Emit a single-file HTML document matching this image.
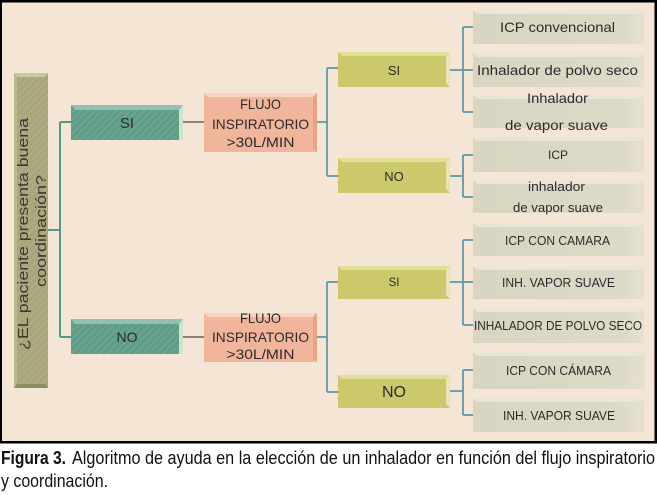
<!DOCTYPE html>
<html><head><meta charset="utf-8">
<style>
html,body{margin:0;padding:0;background:#fff;}
svg{display:block;}
text{font-family:"Liberation Sans",sans-serif;fill:#2b2b2b;}
.cap{font-family:"Liberation Sans Narrow","Liberation Sans",sans-serif;fill:#111;}
</style></head><body>
<svg width="657" height="495" viewBox="0 0 657 495" xmlns="http://www.w3.org/2000/svg">
<defs>
<pattern id="hatch" width="5" height="5" patternUnits="userSpaceOnUse" patternTransform="rotate(45)">
<rect width="5" height="5" fill="none"/>
<line x1="0" y1="0" x2="0" y2="5" stroke="#ffffff" stroke-opacity="0.13" stroke-width="2"/>
</pattern>
<linearGradient id="leafg" x1="0" y1="0" x2="1" y2="0">
<stop offset="0" stop-color="#d8d5c1"/><stop offset="0.85" stop-color="#dcd9c7"/><stop offset="1" stop-color="#e6e0cf"/>
</linearGradient>
</defs>
<rect x="0" y="0" width="657" height="495" fill="#fff"/>
<rect x="0" y="0" width="657" height="443.5" fill="#000"/>
<rect x="2" y="2.5" width="652.5" height="438.5" fill="#f4e5d4"/>

<!-- connectors -->
<g fill="none" stroke-width="2">
<path d="M48 230 H60 M60 122 V337 M60 122 H71 M60 337 H71" stroke="#4f9a88"/>
<path d="M183 122 H204 M183 337 H204" stroke="#957f74"/>
<path d="M317 122 H327 M327 68 V176 M327 68 H338 M327 176 H338" stroke="#6e9fae"/>
<path d="M317 337 H327 M327 282 V392 M327 282 H338 M327 392 H338" stroke="#6e9fae"/>
<path d="M450 70 H463 M463 27 V112 M463 27 H474 M463 70 H474 M463 112 H474" stroke="#6e9fae"/>
<path d="M450 176 H463 M463 155 V197 M463 155 H474 M463 197 H474" stroke="#6e9fae"/>
<path d="M450 282 H463 M463 240 V325 M463 240 H474 M463 282 H474 M463 325 H474" stroke="#6e9fae"/>
<path d="M450 391 H463 M463 370 V415 M463 370 H474 M463 415 H474" stroke="#6e9fae"/>
</g>

<!-- question box -->
<rect x="14" y="73" width="34" height="315" fill="#a8a47b"/>
<rect x="14" y="73" width="34" height="315" fill="url(#hatch)"/>
<polygon points="14,73 48,73 45,77 17,77" fill="#c9c6a0"/>
<polygon points="14,73 17,77 17,384 14,388" fill="#bdb98f"/>
<polygon points="14,388 17,384 45,384 48,388" fill="#8f8b63"/>
<text transform="translate(28,234) rotate(-90)" text-anchor="middle" font-size="15" textLength="232" lengthAdjust="spacingAndGlyphs" style="fill:#3a3a30">¿EL paciente presenta buena</text>
<text transform="translate(46,231) rotate(-90)" text-anchor="middle" font-size="15" textLength="112" lengthAdjust="spacingAndGlyphs" style="fill:#3a3a30">coordinación?</text>

<!-- teal boxes -->
<g>
<rect x="71" y="105" width="112" height="35" fill="#5f9d87"/>
<rect x="71" y="105" width="112" height="35" fill="url(#hatch)"/>
<polygon points="71,105 183,105 179,110 75,110" fill="#94c1ae"/>
<polygon points="179,110 183,105 183,140 179,140" fill="#cfe2cc"/>
<rect x="71" y="319" width="112" height="35" fill="#5f9d87"/>
<rect x="71" y="319" width="112" height="35" fill="url(#hatch)"/>
<polygon points="71,319 183,319 179,324 75,324" fill="#94c1ae"/>
<polygon points="179,324 183,319 183,354 179,354" fill="#cfe2cc"/>
</g>
<text x="127" y="128" text-anchor="middle" font-size="15">SI</text>
<text x="127" y="342" text-anchor="middle" font-size="14">NO</text>

<!-- salmon boxes -->
<rect x="204" y="93" width="113" height="59" fill="#f0b59b"/>
<polygon points="204,93 317,93 313,97 208,97" fill="#f8d3c0"/>
<polygon points="313,97 317,93 317,152 313,148" fill="#e8a286"/>
<rect x="204" y="313" width="113" height="49" fill="#f0b59b"/>
<polygon points="204,313 317,313 313,317 208,317" fill="#f8d3c0"/>
<polygon points="313,317 317,313 317,362 313,358" fill="#e8a286"/>
<g font-size="14" text-anchor="middle">
<text x="260.5" y="109" textLength="41" lengthAdjust="spacingAndGlyphs">FLUJO</text>
<text x="260.5" y="129" textLength="97" lengthAdjust="spacingAndGlyphs">INSPIRATORIO</text>
<text x="260.5" y="147" textLength="68" lengthAdjust="spacingAndGlyphs">&gt;30L/MIN</text>
<text x="260.5" y="323" textLength="41" lengthAdjust="spacingAndGlyphs">FLUJO</text>
<text x="260.5" y="342" textLength="97" lengthAdjust="spacingAndGlyphs">INSPIRATORIO</text>
<text x="260.5" y="359" textLength="68" lengthAdjust="spacingAndGlyphs">&gt;30L/MIN</text>
</g>

<!-- yellow boxes -->
<g>
<rect x="338" y="52" width="112" height="35" fill="#cbc96b"/>
<polygon points="338,52 450,52 446,56 342,56" fill="#e0df98"/>
<polygon points="446,56 450,52 450,87 446,83" fill="#e8e4b8"/>
<rect x="338" y="158" width="112" height="35" fill="#cbc96b"/>
<polygon points="338,158 450,158 446,162 342,162" fill="#e0df98"/>
<polygon points="446,162 450,158 450,193 446,189" fill="#e8e4b8"/>
<rect x="338" y="266" width="112" height="33" fill="#cbc96b"/>
<polygon points="338,266 450,266 446,270 342,270" fill="#e0df98"/>
<polygon points="446,270 450,266 450,299 446,295" fill="#e8e4b8"/>
<rect x="338" y="375" width="112" height="33" fill="#cbc96b"/>
<polygon points="338,375 450,375 446,379 342,379" fill="#e0df98"/>
<polygon points="446,379 450,375 450,408 446,404" fill="#e8e4b8"/>
</g>
<text x="394" y="75" text-anchor="middle" font-size="13">SI</text>
<text x="394" y="181" text-anchor="middle" font-size="13">NO</text>
<text x="394" y="286" text-anchor="middle" font-size="11.5">SI</text>
<text x="394" y="397" text-anchor="middle" font-size="16">NO</text>

<!-- leaf boxes -->
<g>
<rect x="473" y="10" width="171" height="34" fill="url(#leafg)"/><polygon points="473,10 644,10 640,14 477,14" fill="#e9e6d8"/>
<rect x="473" y="53" width="171" height="34" fill="url(#leafg)"/><polygon points="473,53 644,53 640,57 477,57" fill="#e9e6d8"/>
<rect x="473" y="95" width="171" height="33" fill="url(#leafg)"/><polygon points="473,95 644,95 640,99 477,99" fill="#e9e6d8"/>
<rect x="473" y="137" width="171" height="35" fill="url(#leafg)"/><polygon points="473,137 644,137 640,141 477,141" fill="#e9e6d8"/>
<rect x="473" y="180" width="171" height="33" fill="url(#leafg)"/><polygon points="473,180 644,180 640,184 477,184" fill="#e9e6d8"/>
<rect x="473" y="223" width="171" height="33" fill="url(#leafg)"/><polygon points="473,223 644,223 640,227 477,227" fill="#e9e6d8"/>
<rect x="473" y="266" width="171" height="33" fill="url(#leafg)"/><polygon points="473,266 644,266 640,270 477,270" fill="#e9e6d8"/>
<rect x="473" y="308" width="171" height="35" fill="url(#leafg)"/><polygon points="473,308 644,308 640,312 477,312" fill="#e9e6d8"/>
<rect x="473" y="352" width="172" height="37" fill="url(#leafg)"/><polygon points="473,352 645,352 641,356 477,356" fill="#e9e6d8"/>
<rect x="473" y="398" width="171" height="34" fill="url(#leafg)"/><polygon points="473,398 644,398 640,402 477,402" fill="#e9e6d8"/>
</g>
<g text-anchor="middle">
<text x="557.5" y="32" font-size="14" textLength="115" lengthAdjust="spacingAndGlyphs">ICP convencional</text>
<text x="557.5" y="75" font-size="14" textLength="161" lengthAdjust="spacingAndGlyphs">Inhalador  de polvo seco</text>
<text x="557.5" y="103" font-size="14" textLength="61" lengthAdjust="spacingAndGlyphs">Inhalador</text>
<text x="556.5" y="130" font-size="14" textLength="103" lengthAdjust="spacingAndGlyphs">de vapor suave</text>
<text x="558" y="159" font-size="12" textLength="20" lengthAdjust="spacingAndGlyphs">ICP</text>
<text x="556.5" y="191" font-size="13" textLength="57" lengthAdjust="spacingAndGlyphs">inhalador</text>
<text x="558" y="212" font-size="12.5" textLength="90" lengthAdjust="spacingAndGlyphs">de vapor suave</text>
<text x="557.5" y="245" font-size="13" textLength="105" lengthAdjust="spacingAndGlyphs">ICP CON  CAMARA</text>
<text x="558.5" y="287" font-size="13" textLength="113" lengthAdjust="spacingAndGlyphs">INH. VAPOR SUAVE</text>
<text x="558" y="330" font-size="13" textLength="168" lengthAdjust="spacingAndGlyphs">INHALADOR DE POLVO SECO</text>
<text x="558.5" y="375" font-size="13" textLength="105" lengthAdjust="spacingAndGlyphs">ICP CON  CÁMARA</text>
<text x="559" y="420" font-size="13" textLength="112" lengthAdjust="spacingAndGlyphs">INH. VAPOR SUAVE</text>
</g>

<!-- caption -->
<text class="cap" x="1" y="464" font-size="18" font-weight="bold" textLength="65" lengthAdjust="spacingAndGlyphs">Figura 3.</text>
<text class="cap" x="72" y="464" font-size="18" textLength="583" lengthAdjust="spacingAndGlyphs">Algoritmo de ayuda en la elección de un inhalador en función del flujo inspiratorio</text>
<text class="cap" x="1" y="487" font-size="18" textLength="107" lengthAdjust="spacingAndGlyphs">y coordinación.</text>
</svg>
</body></html>
